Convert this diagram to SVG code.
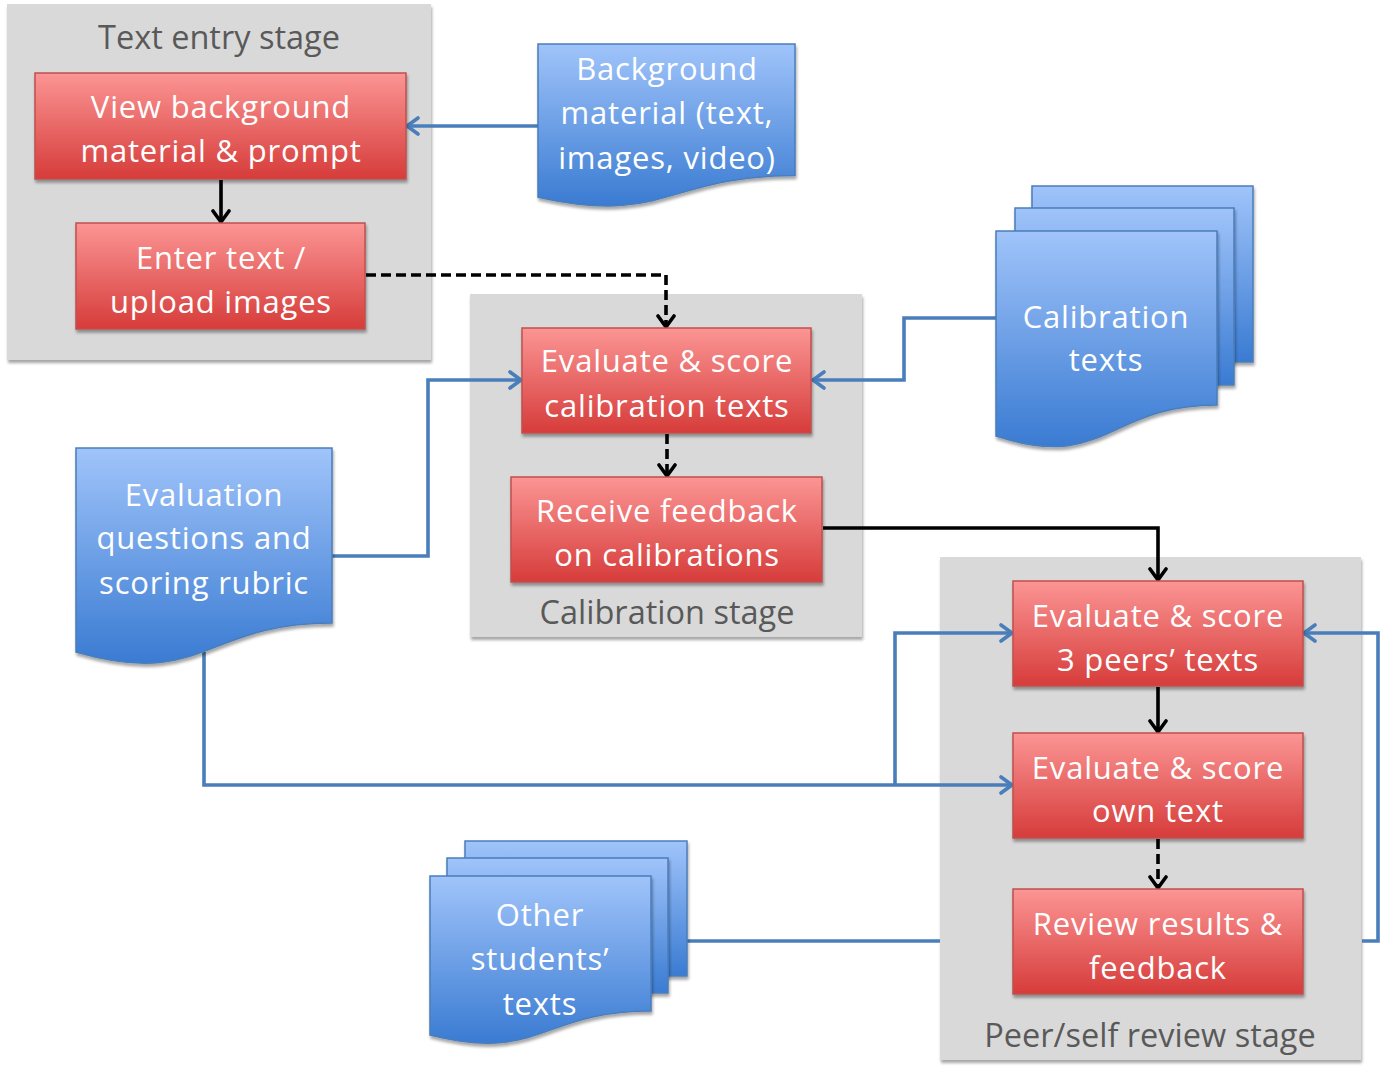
<svg xmlns="http://www.w3.org/2000/svg" width="1387" height="1071" viewBox="0 0 1387 1071">
<defs>
<linearGradient id="gRed" x1="0" y1="0" x2="0" y2="1">
<stop offset="0" stop-color="#fb9594"/>
<stop offset="1" stop-color="#d63c3a"/>
</linearGradient>
<linearGradient id="gBlue" x1="0" y1="0" x2="0" y2="1">
<stop offset="0" stop-color="#a0c4fa"/>
<stop offset="1" stop-color="#3a7bd2"/>
</linearGradient>
<filter id="sh" x="-10%" y="-10%" width="120%" height="125%">
<feDropShadow dx="1" dy="3" stdDeviation="1.8" flood-color="#000" flood-opacity="0.35"/>
</filter>
<marker id="aBlue" markerUnits="userSpaceOnUse" markerWidth="16" markerHeight="20" viewBox="0 0 16 20" refX="14" refY="10" orient="auto">
<path d="M3,2 L14,10 L3,18" fill="none" stroke="#4a7ebb" stroke-width="3.6" stroke-linecap="round" stroke-linejoin="round"/>
</marker>
<marker id="aBlack" markerUnits="userSpaceOnUse" markerWidth="16" markerHeight="20" viewBox="0 0 16 20" refX="14" refY="10" orient="auto">
<path d="M3,2 L14,10 L3,18" fill="none" stroke="#000" stroke-width="3.6" stroke-linecap="round" stroke-linejoin="round"/>
</marker>
<style>
.panel{fill:#d9d9d9;filter:url(#sh)}
.ptxt{font-family:"Open Sans",sans-serif;font-size:32.5px;fill:#595959;text-anchor:middle}
.red{fill:url(#gRed);stroke:#c0504d;stroke-width:1.5;filter:url(#sh)}
.blue{fill:url(#gBlue);stroke:#4a7ebb;stroke-width:1.5;filter:url(#sh)}
.t{font-family:"Open Sans",sans-serif;font-size:31px;fill:#fff;text-anchor:middle;letter-spacing:0.8px}
.cb{fill:none;stroke:#4a7ebb;stroke-width:3.6;marker-end:url(#aBlue)}
.cbn{fill:none;stroke:#4a7ebb;stroke-width:3.6}
.ck{fill:none;stroke:#000;stroke-width:3.6;marker-end:url(#aBlack)}
.dash{stroke-dasharray:10 5}
</style>
</defs>
<rect width="1387" height="1071" fill="#fff"/>

<g id="panels">
<g id="panel-text-entry"><rect class="panel" x="7" y="4" width="424" height="356"/><text class="ptxt" x="219" y="49">Text entry stage</text></g>
<g id="panel-calibration"><rect class="panel" x="470" y="294" width="392" height="343"/><text class="ptxt" x="667" y="624">Calibration stage</text></g>
<g id="panel-peer"><rect class="panel" x="940" y="557" width="421" height="503"/><text class="ptxt" x="1150" y="1047">Peer/self review stage</text></g>
</g>

<g id="connectors">
<path class="cb" d="M538,126 H407"/>
<path class="cb" d="M332,556 H428 V380 H521"/>
<path class="cb" d="M996,318 H904 V380 H813"/>
<path class="cb" d="M204,652 V785 H1012"/>
<path class="cb" d="M895,785 V633 H1012"/>
<path class="cbn" d="M687,941 H940"/>
<path class="cb" d="M1362,941 H1378 V633 H1304"/>
<path class="ck" d="M221,180 V222"/>
<path class="ck dash" d="M366,275 H666 V327"/>
<path class="ck dash" d="M667,434 V476"/>
<path class="ck" d="M823,528 H1158 V580"/>
<path class="ck" d="M1158,687 V732"/>
<path class="ck dash" d="M1158,839 V888"/>
</g>

<g id="view-background">
<rect class="red" x="35" y="73" width="371" height="106"/>
<text class="t" x="221" y="118">View background</text>
<text class="t" x="221" y="162">material &amp; prompt</text>
</g>
<g id="enter-text">
<rect class="red" x="76" y="223" width="289" height="106"/>
<text class="t" x="221" y="269">Enter text /</text>
<text class="t" x="221" y="313">upload images</text>
</g>
<g id="background-material">
<path class="blue" d="M538,44 H795 V175.5 C666.5,175.5 666.5,225.6 538,197.2 Z"/>
<text class="t" x="667" y="80">Background</text>
<text class="t" x="667" y="124">material (text,</text>
<text class="t" x="667" y="169">images, video)</text>
</g>
<g id="evaluate-calibration">
<rect class="red" x="522" y="328" width="289" height="105"/>
<text class="t" x="667" y="372">Evaluate &amp; score</text>
<text class="t" x="667" y="417">calibration texts</text>
</g>
<g id="receive-feedback">
<rect class="red" x="511" y="477" width="311" height="105"/>
<text class="t" x="667" y="522">Receive feedback</text>
<text class="t" x="667" y="566">on calibrations</text>
</g>
<g id="calibration-texts">
<rect class="blue" x="1032" y="186" width="221" height="176"/>
<rect class="blue" x="1015" y="208" width="219" height="177"/>
<path class="blue" d="M996,231 H1217 V405 C1106.5,405 1106.5,472 996,436 Z"/>
<text class="t" x="1106" y="328">Calibration</text>
<text class="t" x="1106" y="371">texts</text>
</g>
<g id="evaluation-questions">
<path class="blue" d="M76,448 H332 V623 C204,623 204,689 76,652 Z"/>
<text class="t" x="204" y="506">Evaluation</text>
<text class="t" x="204" y="549">questions and</text>
<text class="t" x="204" y="594">scoring rubric</text>
</g>
<g id="evaluate-peers">
<rect class="red" x="1013" y="581" width="290" height="105"/>
<text class="t" x="1158" y="627">Evaluate &amp; score</text>
<text class="t" x="1158" y="671">3 peers’ texts</text>
</g>
<g id="evaluate-own">
<rect class="red" x="1013" y="733" width="290" height="105"/>
<text class="t" x="1158" y="779">Evaluate &amp; score</text>
<text class="t" x="1158" y="822">own text</text>
</g>
<g id="review-results">
<rect class="red" x="1013" y="889" width="290" height="105"/>
<text class="t" x="1158" y="935">Review results &amp;</text>
<text class="t" x="1158" y="979">feedback</text>
</g>
<g id="other-students-texts">
<rect class="blue" x="465" y="841" width="222" height="135"/>
<rect class="blue" x="447" y="858" width="221" height="135"/>
<path class="blue" d="M430,876 H651 V1011 C540.5,1011 540.5,1063 430,1035 Z"/>
<text class="t" x="540" y="926">Other</text>
<text class="t" x="540" y="970">students’</text>
<text class="t" x="540" y="1015">texts</text>
</g>
</svg>
